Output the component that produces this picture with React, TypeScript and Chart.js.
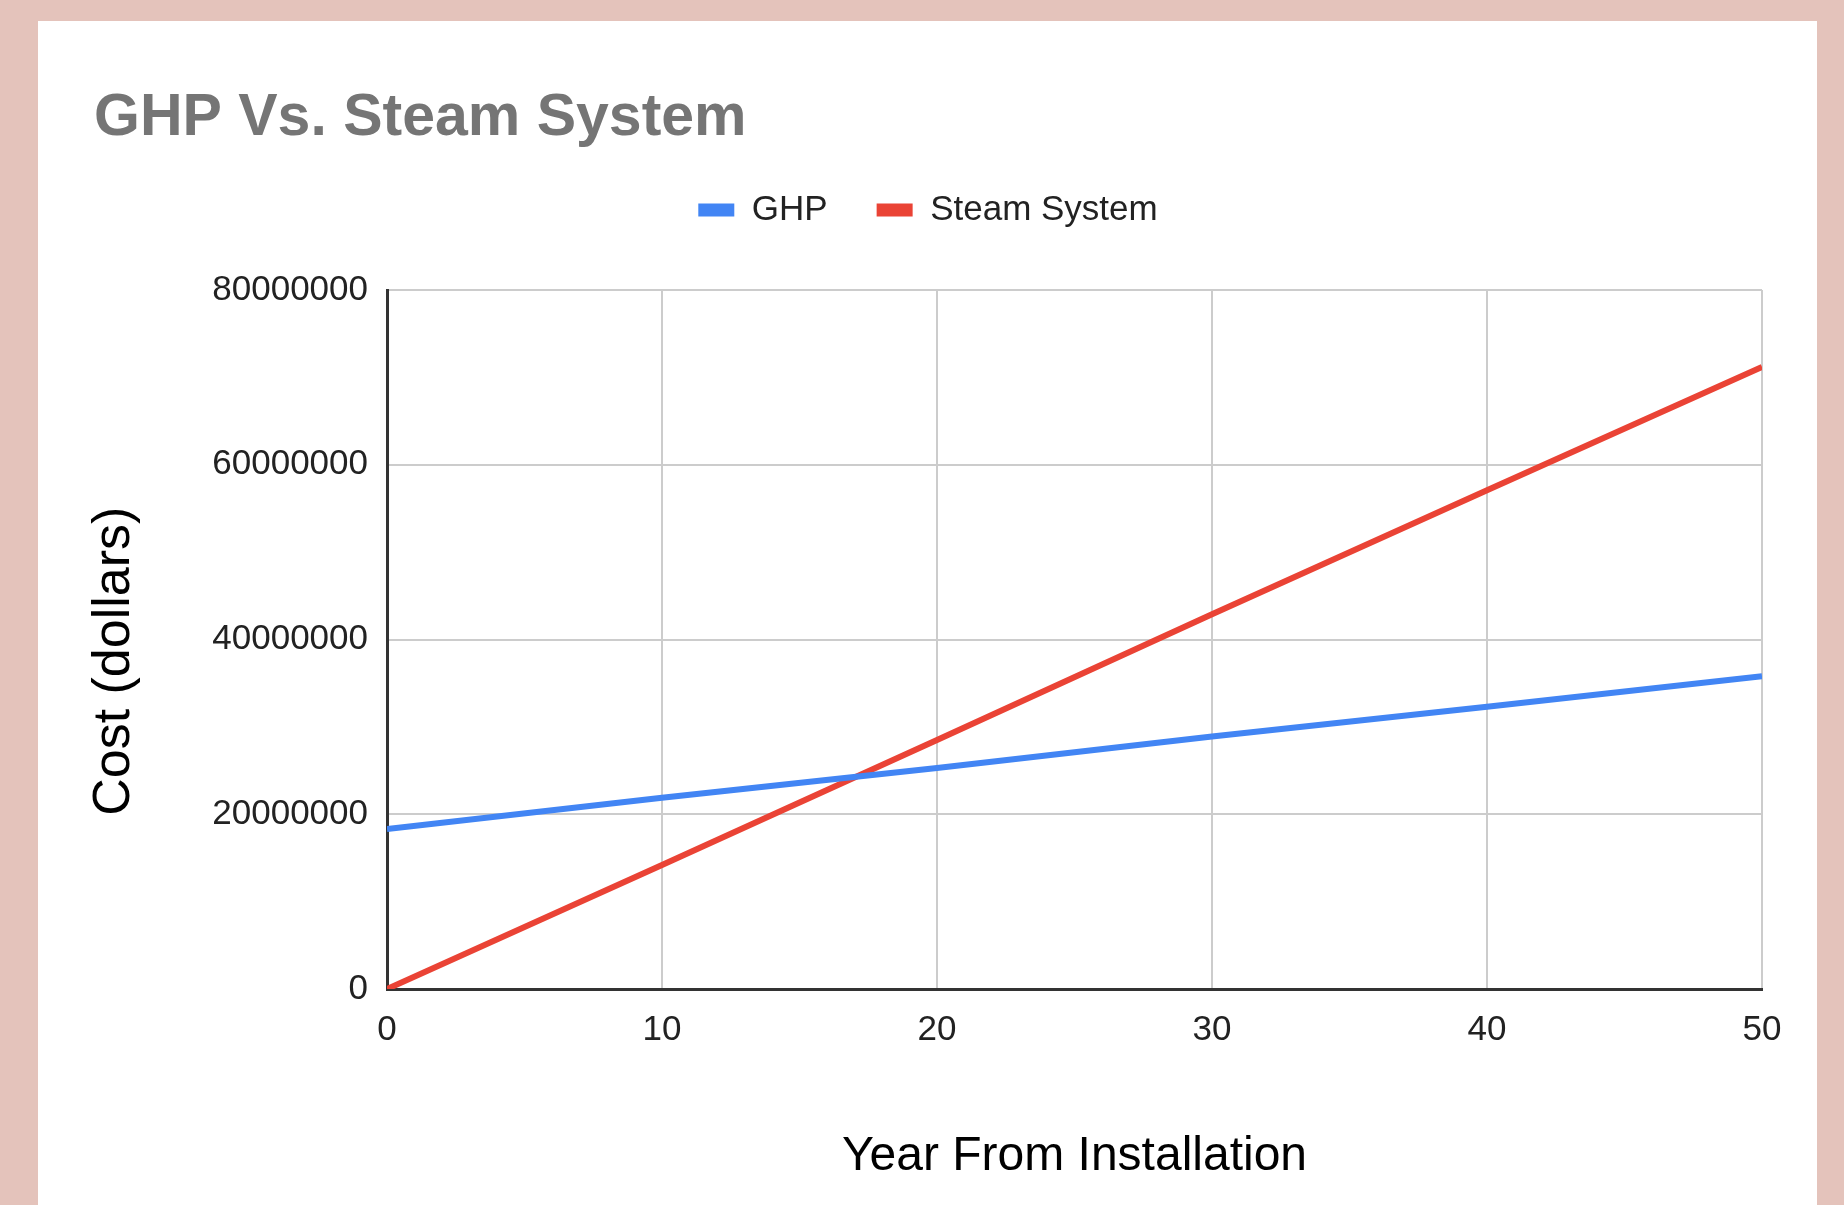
import { useEffect, useRef } from 'react';
import { Chart, registerables } from 'chart.js';

Chart.register(...registerables);

// ---- data ----
const years = [0, 10, 20, 30, 40, 50];
const ghpCost = [18300000, 21900000, 25300000, 28900000, 32300000, 35800000];
const steamCost = [0, 14200000, 28500000, 42900000, 57100000, 71200000];
const seriesNames = ['GHP', 'Steam System'];
const xTickStep = 10;
const yTickStep = 20000000;
const xRange = [0, 50];
const yRange = [0, 80000000];

const FONT = "Arial, 'Liberation Sans', sans-serif";

export default function App() {
  const ref = useRef<HTMLCanvasElement | null>(null);

  useEffect(() => {
    if (!ref.current) return;
    const legendPad = {
      id: 'legendPad',
      beforeLayout(chart: any) {
        const lg = chart.legend;
        if (lg && !lg.__patched) {
          const orig = lg.fit;
          lg.fit = function (this: any) {
            orig.call(this);
            this.height += 14.5;
          };
          lg.__patched = true;
        }
      },
    };
    const chart = new Chart(ref.current, {
      type: 'line',
      data: {
        datasets: [
          {
            label: seriesNames[0],
            data: years.map((x, i) => ({ x, y: ghpCost[i] })),
            borderColor: '#4285F4',
            backgroundColor: '#4285F4',
            borderWidth: 6,
            pointRadius: 0,
            tension: 0,
          },
          {
            label: seriesNames[1],
            data: years.map((x, i) => ({ x, y: steamCost[i] })),
            borderColor: '#EA4335',
            backgroundColor: '#EA4335',
            borderWidth: 6,
            pointRadius: 0,
            tension: 0,
          },
        ],
      },
      options: {
        animation: false,
        responsive: false,
        maintainAspectRatio: false,
        layout: { padding: { left: 94, right: 82, top: 0, bottom: 24 } },
        plugins: {
          title: {
            display: true,
            text: 'GHP Vs. Steam System',
            align: 'start',
            color: '#757575',
            font: { family: FONT, size: 59, weight: 'bold', lineHeight: 0.9 },
            padding: { top: 92.5, bottom: -2 },
          },
          legend: {
            display: true,
            position: 'top',
            align: 'center',
            labels: {
              boxWidth: 36,
              boxHeight: 13,
              padding: 49,
              color: '#222222',
              font: { family: FONT, size: 35 },
              generateLabels: (c: any) =>
                (Chart.defaults.plugins.legend.labels.generateLabels as any)(c).map((l: any) => ({
                  ...l,
                  lineWidth: 0,
                })),
            },
          },
          tooltip: { enabled: false },
        },
        scales: {
          x: {
            type: 'linear',
            min: xRange[0],
            max: xRange[1],
            ticks: { stepSize: xTickStep, padding: 20, color: '#222222', font: { family: FONT, size: 35 } },
            grid: { color: '#cccccc', lineWidth: 2, drawTicks: false },
            border: { color: '#333333', width: 3 },
            title: {
              display: true,
              text: 'Year From Installation',
              color: '#000000',
              font: { family: FONT, size: 48, lineHeight: 1 },
              padding: { top: 0, bottom: 0 },
            },
            afterFit: (s: any) => {
              s.height = 192;
            },
          },
          xTopGap: {
            type: 'linear',
            position: 'top',
            display: true,
            min: xRange[0],
            max: xRange[1],
            grid: { display: false, drawTicks: false },
            border: { display: false },
            ticks: { display: false },
            afterFit: (s: any) => {
              s.height = 38;
            },
          },
          y: {
            type: 'linear',
            min: yRange[0],
            max: yRange[1],
            ticks: {
              stepSize: yTickStep,
              padding: 19,
              color: '#222222',
              font: { family: FONT, size: 35 },
              callback: (v: any) => String(v),
            },
            grid: { color: '#cccccc', lineWidth: 2, drawTicks: false },
            border: { color: '#333333', width: 3 },
            title: {
              display: true,
              text: 'Cost (dollars)   ',
              color: '#000000',
              font: { family: FONT, size: 52, lineHeight: 1 },
              padding: { top: -5, bottom: 0 },
            },
            afterFit: (s: any) => {
              s.width = 293;
            },
          },
        },
      } as any,
      plugins: [legendPad],
    });
    return () => chart.destroy();
  }, []);

  return (
    <div
      style={{
        position: 'fixed',
        left: 0,
        top: 0,
        width: 1844,
        height: 1205,
        background: 'rgb(228,195,187)',
        overflow: 'hidden',
      }}
    >
      <div
        style={{
          position: 'absolute',
          left: 38,
          top: 21,
          width: 1779,
          height: 1184,
          background: '#ffffff',
        }}
      />
      <canvas
        ref={ref}
        width={1844}
        height={1205}
        style={{ position: 'absolute', left: 0, top: 0, width: 1844, height: 1205 }}
      />
    </div>
  );
}
